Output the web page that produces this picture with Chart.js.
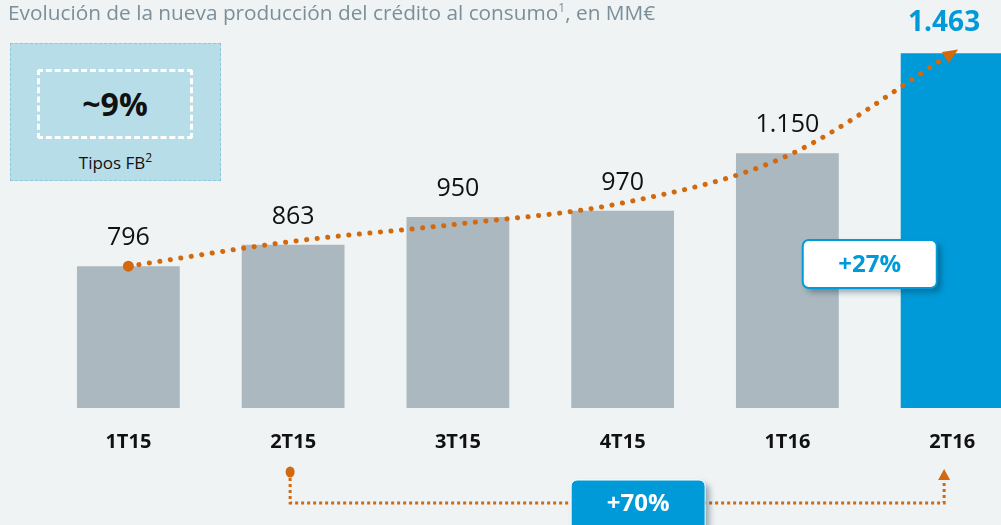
<!DOCTYPE html>
<html>
<head>
<meta charset="utf-8">
<script src="https://cdn.jsdelivr.net/npm/chart.js@4.4.1/dist/chart.umd.min.js"></script>
<style>
    html, body { margin: 0; padding: 0; width: 1001px; height: 525px; overflow: hidden; background: #eff3f4; font-family: "Open Sans", sans-serif; }
    #wrap { position: relative; width: 1001px; height: 525px; overflow: hidden; }
    #chart { position: absolute; left: 0; top: 0; }
    .title { position: absolute; left: 8px; top: -2px; font-size: 20.8px; color: #7b8f9a; white-space: nowrap; }
    .title sup { font-size: 12px; }
    .fb-box { position: absolute; left: 10px; top: 43px; width: 209px; height: 136px; background: #b7dde8; border: 1px dashed #8bc9da; }
    .fb-inner { position: absolute; left: 26px; top: 25px; width: 150px; height: 64px; border: 3px dashed #fff; border-radius: 3px; text-align: center; line-height: 64px; font-weight: bold; font-size: 32px; color: #111; }
    .fb-label { position: absolute; left: 0; width: 209px; top: 105px; text-align: center; font-size: 17px; color: #111; }
    .fb-label sup { font-size: 12px; }
</style>
</head>
<body>
<div id="wrap">
    <canvas id="chart" width="1040" height="525"></canvas>
    <div class="title">Evolución de la nueva producción del crédito al consumo<sup>1</sup>, en MM€</div>
    <div class="fb-box">
        <div class="fb-inner">~9%</div>
        <div class="fb-label">Tipos FB<sup>2</sup></div>
    </div>
</div>
<script>
// Datos del gráfico
var categories = ['1T15', '2T15', '3T15', '4T15', '1T16', '2T16'];
var produccion = [796, 863, 950, 970, 1150, 1463];
var valueLabels = ['796', '863', '950', '970', '1.150', '1.463'];
var tendencia = [796, 874, 928, 994, 1142, 1463]; // curva punteada naranja
var growthLabels = { semestral: '+27%', anual: '+70%' };

var GRAY = '#abb8bf';
var BLUE = '#009ad8';
var ORANGE = '#d2690f';

// Plugin para etiquetas y anotaciones dibujadas sobre las escalas
var annotationsPlugin = {
    id: 'annotations',
    afterDatasetsDraw: function (chart) {
        var ctx = chart.ctx;
        var xs = chart.scales.x;
        var ys = chart.scales.y;
        var barMeta = chart.getDatasetMeta(0);
        var lineMeta = chart.getDatasetMeta(1);

        // etiquetas de valor sobre las barras
        ctx.save();
        ctx.textAlign = 'center';
        ctx.textBaseline = 'middle';
        barMeta.data.forEach(function (bar, i) {
            var last = i === produccion.length - 1;
            ctx.font = last ? 'bold 28px "Open Sans"' : '25px "Open Sans"';
            ctx.fillStyle = last ? BLUE : '#111';
            ctx.fillText(valueLabels[i], bar.x - (last ? 8 : 0), bar.y - (last ? 30 : 28));
        });
        ctx.restore();

        // punta de flecha al final de la curva
        var pts = lineMeta.data;
        var end = pts[pts.length - 1];
        var ang = Math.atan2(end.y - end.cp1y, end.x - end.cp1x);
        drawArrow(ctx, end.x - 8 * Math.cos(ang), end.y - 8 * Math.sin(ang), ang, 15, 13);

        // recuadro +27%
        var bx = (xs.getPixelForValue(4) + xs.getPixelForValue(5)) / 2;
        var by = ys.getPixelForValue(803);
        roundBox(ctx, bx - 67, by - 24, 134, 48, 6, '#fff', BLUE, 2);
        ctx.save();
        ctx.font = 'bold 24px "Open Sans"';
        ctx.fillStyle = BLUE;
        ctx.textAlign = 'center';
        ctx.textBaseline = 'middle';
        ctx.fillText(growthLabels.semestral, bx, by + 1);
        ctx.restore();

        // corchete inferior 2T15 -> 2T16
        var x1 = xs.getPixelForValue(1) - 3;
        var x2 = xs.getPixelForValue(5) - 8;
        var yTop = 472, yLine = 503;
        ctx.save();
        ctx.strokeStyle = ORANGE;
        ctx.lineWidth = 3;
        ctx.setLineDash([3, 3]);
        ctx.beginPath();
        ctx.moveTo(x1, yTop);
        ctx.lineTo(x1, yLine);
        ctx.lineTo(x2, yLine);
        ctx.lineTo(x2, yTop + 8);
        ctx.stroke();
        ctx.setLineDash([]);
        ctx.fillStyle = ORANGE;
        ctx.beginPath();
        ctx.ellipse(x1, yTop, 4.5, 5.5, 0, 0, Math.PI * 2);
        ctx.fill();
        ctx.restore();
        drawArrow(ctx, x2, yTop + 8, -Math.PI / 2, 11, 12);

        // recuadro +70%
        var cx = (x1 + x2) / 2 + 21;
        roundBox(ctx, cx - 67, 480, 134, 52, 6, BLUE, '#fff', 1);
        ctx.save();
        ctx.font = 'bold 24px "Open Sans"';
        ctx.fillStyle = '#fff';
        ctx.textAlign = 'center';
        ctx.textBaseline = 'middle';
        ctx.fillText(growthLabels.anual, cx, 504);
        ctx.restore();
    }
};

function drawArrow(ctx, x, y, ang, len, wid) {
    ctx.save();
    ctx.translate(x, y);
    ctx.rotate(ang);
    ctx.fillStyle = ORANGE;
    ctx.beginPath();
    ctx.moveTo(len, 0);
    ctx.lineTo(0, -wid / 2);
    ctx.lineTo(0, wid / 2);
    ctx.closePath();
    ctx.fill();
    ctx.restore();
}

function roundBox(ctx, x, y, w, h, r, fill, stroke, lw) {
    ctx.save();
    ctx.shadowColor = 'rgba(0,40,60,0.4)';
    ctx.shadowBlur = 6;
    ctx.shadowOffsetX = 4;
    ctx.shadowOffsetY = 4;
    ctx.beginPath();
    ctx.roundRect(x, y, w, h, r);
    ctx.fillStyle = fill;
    ctx.fill();
    ctx.shadowColor = 'transparent';
    ctx.strokeStyle = stroke;
    ctx.lineWidth = lw;
    ctx.stroke();
    ctx.restore();
}

new Chart(document.getElementById('chart'), {
    type: 'bar',
    data: {
        labels: categories,
        datasets: [{
            type: 'bar',
            data: produccion,
            backgroundColor: produccion.map(function (v, i) { return i === produccion.length - 1 ? BLUE : GRAY; }),
            borderWidth: 0,
            categoryPercentage: 1,
            barPercentage: 0.624,
            order: 2
        }, {
            type: 'line',
            data: tendencia,
            borderColor: ORANGE,
            borderWidth: 5,
            borderDash: [0.1, 10.5],
            borderCapStyle: 'round',
            cubicInterpolationMode: 'monotone',
            fill: false,
            pointRadius: [5.5, 0, 0, 0, 0, 0],
            pointBackgroundColor: ORANGE,
            pointBorderWidth: 0,
            order: 1
        }]
    },
    options: {
        responsive: false,
        animation: false,
        events: [],
        layout: { padding: { left: 46, right: 4, top: 20, bottom: 49 } },
        plugins: { legend: { display: false }, tooltip: { enabled: false } },
        scales: {
            x: {
                grid: { display: false, drawTicks: false },
                border: { display: false },
                ticks: { color: '#111', padding: 22, font: { family: 'Open Sans', weight: 'bold', size: 20 } }
            },
            y: { display: false, min: 352, max: 1567 }
        }
    },
    plugins: [annotationsPlugin]
});
</script>
</body>
</html>
